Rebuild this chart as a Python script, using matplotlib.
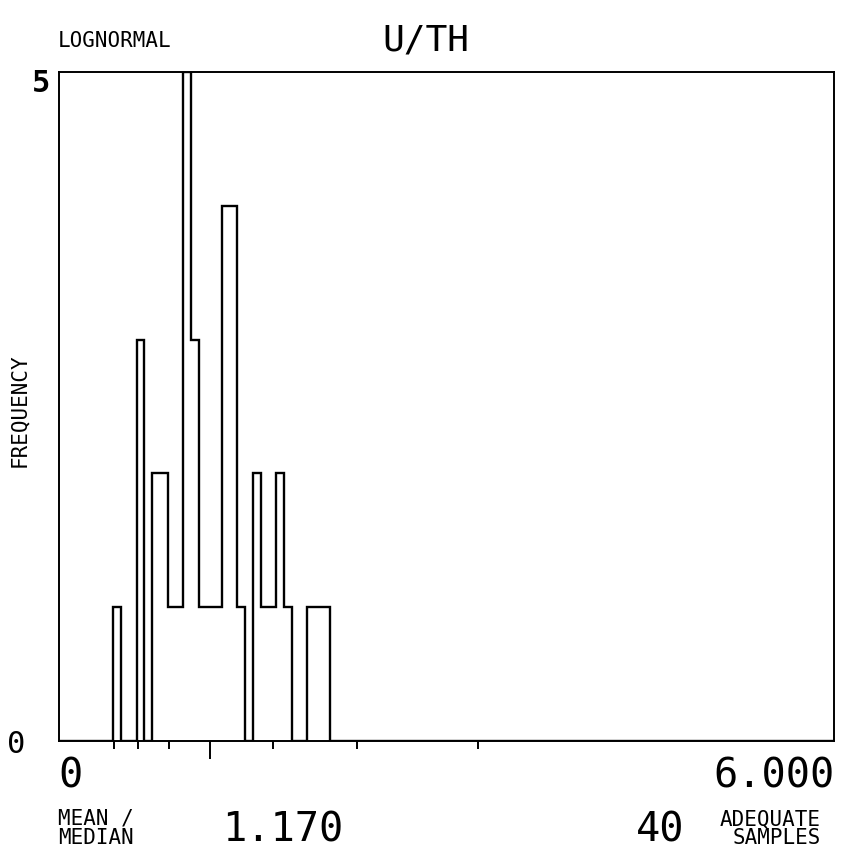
import numpy as np
import matplotlib
matplotlib.use("Agg")
import matplotlib.pyplot as plt

# ---- data ----
bin_width = 0.06
bin_index = [7, 10, 12, 13, 14, 15, 16, 17, 18, 19, 20, 21, 22, 23, 25, 26, 27, 28, 29, 32, 33, 34]
bin_count = [1, 3, 2, 2, 1, 1, 5, 3, 1, 1, 1, 4, 4, 1, 2, 1, 1, 2, 1, 1, 1, 1]
short_ticks = [0.425, 0.61, 0.85, 1.655, 2.31, 3.245]
long_ticks = [1.17]
x_max = 6.0
y_max = 5
title = "U/TH"
dist_label = "LOGNORMAL"
mean_median = "1.170"
n_samples = "40"

W, H = 844, 854
fig = plt.figure(figsize=(W / 100, H / 100), dpi=100)
fig.patch.set_facecolor("white")

def fx(px):
    return px / W

def fy(py):
    return 1 - py / H

left, right, top, bottom = 59, 834, 73, 742
ax = fig.add_axes([fx(left), fy(bottom), fx(right) - fx(left), fy(top) - fy(bottom)])

nbins = int(round(x_max / bin_width))
counts = np.zeros(nbins)
for i, c in zip(bin_index, bin_count):
    counts[i] = c
edges = np.arange(nbins + 1) * bin_width
ax.stairs(counts, edges, baseline=0, fill=False, color="black", linewidth=1.7)

ax.set_xlim(0, x_max)
ax.set_ylim(0, y_max)
for s in ax.spines.values():
    s.set_linewidth(1.4)
    s.set_color("black")

ax.set_xticks(short_ticks)
ax.set_xticklabels([])
ax.set_xticks(long_ticks, minor=True)
ax.tick_params(axis="x", which="major", direction="out", length=6, width=1.4, color="black")
ax.tick_params(axis="x", which="minor", direction="out", length=13, width=1.4, color="black")
ax.set_yticks([])

font = "DejaVu Sans Mono"
kw = dict(family=font, color="black")

fig.text(fx(58), fy(41), dist_label, ha="left", va="center", fontsize=15, **kw)
fig.text(fx(426), fy(40), title, ha="center", va="center", fontsize=26, **kw)
fig.text(fx(41), fy(84), str(y_max), ha="center", va="center", fontsize=22, fontweight="bold", **kw)
fig.text(fx(16), fy(745), "0", ha="center", va="center", fontsize=22, **kw)
fig.text(fx(19), fy(410), "FREQUENCY", ha="center", va="center", rotation=90, fontsize=15, **kw)

fig.text(fx(58), fy(777), "0", ha="left", va="center", fontsize=29, **kw)
fig.text(fx(835), fy(777), "6.000", ha="right", va="center", fontsize=29, **kw)

fig.text(fx(58), fy(819), "MEAN /", ha="left", va="center", fontsize=15, **kw)
fig.text(fx(58), fy(838), "MEDIAN", ha="left", va="center", fontsize=15, **kw)
fig.text(fx(222), fy(831), mean_median, ha="left", va="center", fontsize=29, **kw)
fig.text(fx(684), fy(831), n_samples, ha="right", va="center", fontsize=29, **kw)
fig.text(fx(770), fy(819), "ADEQUATE", ha="center", va="center", fontsize=15, **kw)
fig.text(fx(777), fy(838), "SAMPLES", ha="center", va="center", fontsize=15, **kw)

fig.savefig("out.png", dpi=100, facecolor="white")
